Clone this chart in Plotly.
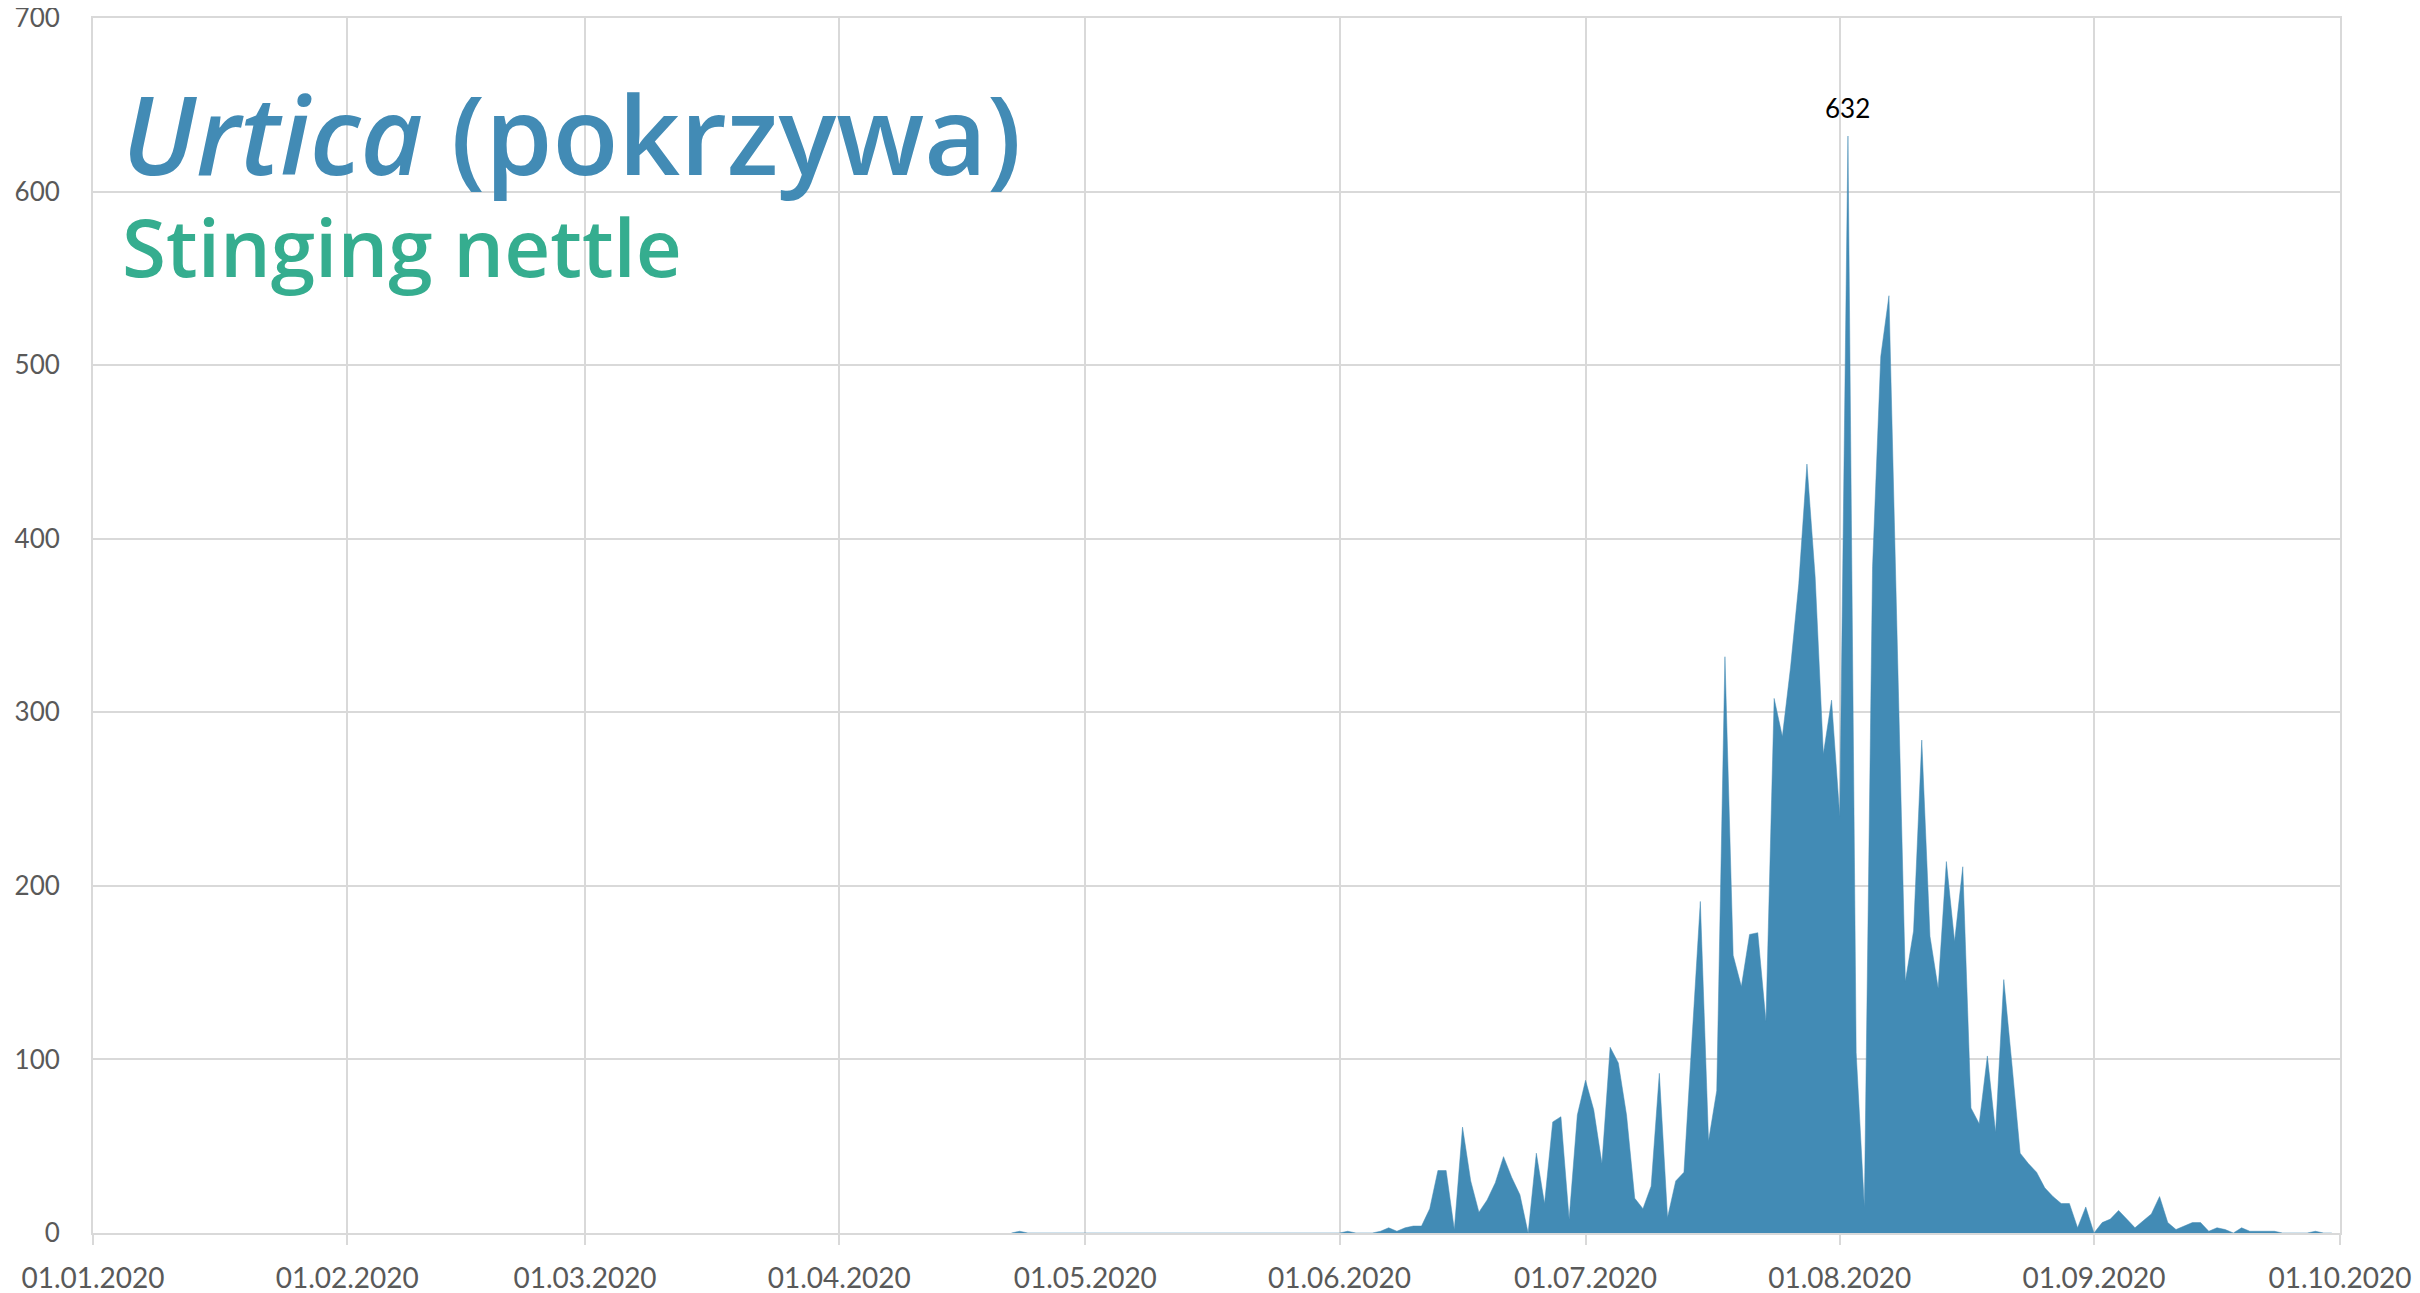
import pandas as pd
import plotly.graph_objects as go

# ---- data (daily pollen counts) ----
april_dates = ["2020-04-22", "2020-04-23", "2020-04-24"]
april_values = [0, 1, 0]

season_start = "2020-06-01"
season_end = "2020-09-30"

june = [0, 1, 0, 0, 0, 1, 3, 1, 3, 4,
        4, 14, 36, 36, 2, 61, 30, 12, 19, 29,
        44, 32, 22, 0, 46, 17, 64, 67, 8, 68]
july = [88, 71, 40, 107, 98, 68, 20, 14, 27, 92,
        9, 30, 35, 113, 191, 53, 82, 332, 160, 142,
        172, 173, 122, 308, 286, 326, 374, 443, 378, 276,
        307]
august = [240, 632, 104, 15, 384, 505, 540, 340, 145, 174,
          284, 171, 141, 214, 168, 211, 72, 63, 102, 58,
          146, 97, 46, 40, 35, 26, 21, 17, 17, 3,
          15]
september = [0, 6, 8, 13, 8, 3, 7, 11, 21, 6,
             2, 4, 6, 6, 1, 3, 2, 0, 3, 1,
             1, 1, 1, 0, 0, 0, 0, 1, 0, 0]

peak_date = "2020-08-02"
peak_value = 632

x_range = ["2020-01-01", "2020-10-01"]
y_ticks = [0, 100, 200, 300, 400, 500, 600, 700]

title_main = "<i>Urtica</i> (pokrzywa)"
title_sub = "Stinging nettle"

# ---- build ----
season_dates = [d.strftime("%Y-%m-%d") for d in pd.date_range(season_start, season_end, freq="D")]
season_values = june + july + august + september
xs = april_dates + season_dates
ys = april_values + season_values

BLUE = "#428BB5"
GREEN = "#35AD8F"
GRID = "#D9D9D9"
TICK = "#595959"
FONT = "Lato"
TFONT = "Open Sans"

fig = go.Figure()
fig.add_trace(go.Scatter(
    x=xs, y=ys, mode="lines", fill="tozeroy",
    fillcolor=BLUE, line=dict(color=BLUE, width=0.5),
    hoverinfo="x+y", showlegend=False,
))

fig.add_annotation(x=peak_date, y=peak_value, xref="x", yref="y",
                   text=str(peak_value), showarrow=False,
                   yanchor="bottom", yshift=10,
                   font=dict(family=FONT, size=26, color="#000000"))

fig.add_annotation(x=0.012, y=0.905, xref="paper", yref="paper",
                   xanchor="left", yanchor="middle", showarrow=False,
                   text=title_main,
                   font=dict(family=TFONT, size=108, weight=600, color=BLUE))
fig.add_annotation(x=0.012, y=0.813, xref="paper", yref="paper",
                   xanchor="left", yanchor="middle", showarrow=False,
                   text=title_sub,
                   font=dict(family=TFONT, size=80, weight=600, color=GREEN))

# the page body adds an 8px margin, so the figure is 8px smaller and margins shifted
fig.update_layout(
    width=2412, height=1285,
    margin=dict(l=85, r=80, t=10, b=60, autoexpand=False),
    paper_bgcolor="white", plot_bgcolor="white",
    font=dict(family=FONT, color=TICK),
)
fig.update_xaxes(
    type="date", range=x_range, tick0="2020-01-01", dtick="M1",
    tickformat="%d.%m.%Y", automargin=False, ticklabeloverflow="allow",
    showgrid=True, gridcolor=GRID, gridwidth=2,
    showline=True, linecolor=GRID, linewidth=2, mirror=True,
    ticks="outside", ticklen=10, tickcolor=GRID, tickwidth=2,
    ticklabelstandoff=9,
    tickfont=dict(family=FONT, size=28, color=TICK),
    zeroline=False,
)
fig.update_yaxes(
    range=[0, 700], tickvals=y_ticks, automargin=False, ticklabeloverflow="allow",
    showgrid=True, gridcolor=GRID, gridwidth=2,
    showline=True, linecolor=GRID, linewidth=2, mirror=True,
    ticks="outside", ticklen=26, tickcolor="rgba(0,0,0,0)",
    tickfont=dict(family=FONT, size=26, color=TICK),
    zeroline=False,
)

fig.write_html("out.html")
